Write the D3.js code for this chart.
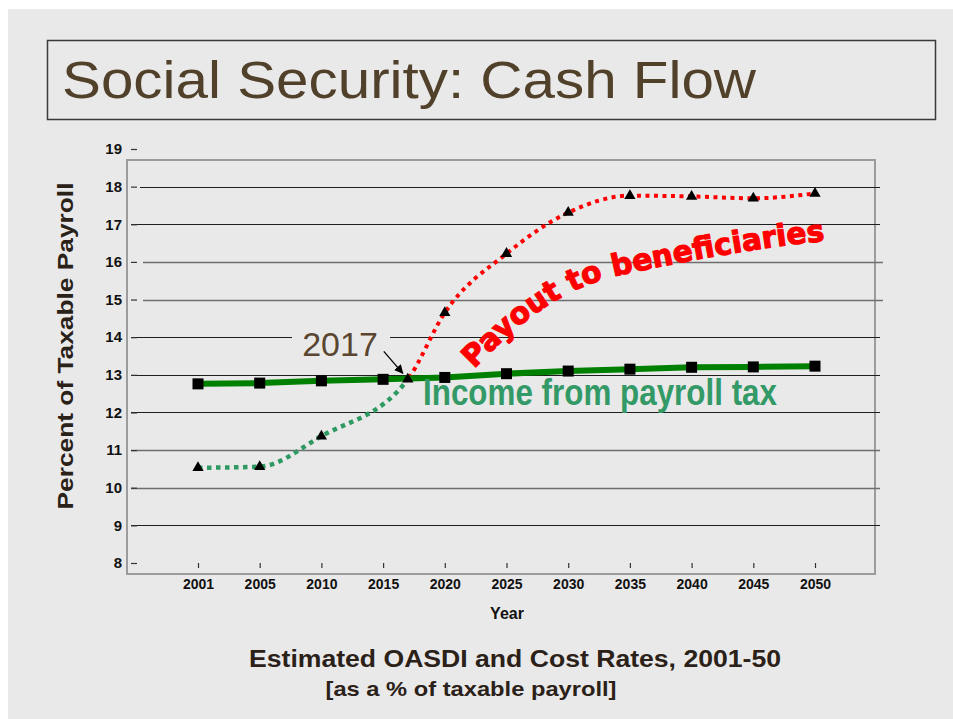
<!DOCTYPE html>
<html>
<head>
<meta charset="utf-8">
<script src="https://cdn.jsdelivr.net/npm/d3@7/dist/d3.min.js"></script>
<style>
  html, body { margin: 0; padding: 0; background: #ffffff; }
  svg { display: block; }
</style>
</head>
<body>
<script>
// Category years on the x axis
const years = [2001, 2005, 2010, 2015, 2020, 2025, 2030, 2035, 2040, 2045, 2050];
// Income rate (payroll tax), % of taxable payroll
const incomeRate = [12.76, 12.78, 12.84, 12.88, 12.93, 13.03, 13.10, 13.15, 13.20, 13.21, 13.23];
// Cost rate (payout to beneficiaries); 2017 is the crossing year
const costYears = [2001, 2005, 2010, 2017, 2020, 2025, 2030, 2035, 2040, 2045, 2050];
const costRate = [10.53, 10.56, 11.37, 12.88, 14.65, 16.22, 17.31, 17.76, 17.74, 17.69, 17.82];
const crossYear = 2017;
const yTicks = [8, 9, 10, 11, 12, 13, 14, 15, 16, 17, 18, 19];
const gridValues = [9, 10, 11, 12, 13, 14, 15, 16, 17, 18];

const W = 953, H = 719;
const svg = d3.select("body").append("svg").attr("width", W).attr("height", H);

// page background
svg.append("rect").attr("x", 8).attr("y", 9).attr("width", W - 8).attr("height", H - 9).attr("fill", "#e9e9e9");

// title box
svg.append("rect").attr("x", 47.5).attr("y", 40.5).attr("width", 888).attr("height", 79)
  .attr("fill", "none").attr("stroke", "#3a3a3a").attr("stroke-width", 1.5);
svg.append("text").attr("x", 62).attr("y", 98)
  .attr("font-family", "'Liberation Sans Narrow', 'Liberation Sans', Arial, sans-serif")
  .attr("font-size", 51).attr("fill", "#51412b")
  .attr("textLength", 694).attr("lengthAdjust", "spacingAndGlyphs")
  .text("Social Security: Cash Flow");

// scales
const xCat = d3.scalePoint().domain(years).range([198, 815]);
const xYear = d3.scaleLinear().domain(years).range(years.map(d => xCat(d)));
const y = d3.scaleLinear().domain([8, 19]).range([563, 149]);

// plot frame
const frame = { x0: 127, x1: 875, y0: 160, y1: 574 };
svg.append("rect").attr("x", frame.x0).attr("y", frame.y0)
  .attr("width", frame.x1 - frame.x0).attr("height", frame.y1 - frame.y0)
  .attr("fill", "none").attr("stroke", "#9c9c9c").attr("stroke-width", 2);

// horizontal gridlines
const greyGrid = new Set([10, 11, 15, 16]);
svg.append("g").selectAll("line").data(gridValues).join("line")
  .attr("x1", d => d === 18 ? 140 : (greyGrid.has(d) && d > 14 ? 143 : 131))
  .attr("x2", d => greyGrid.has(d) && d > 14 ? 883 : 880)
  .attr("y1", d => Math.round(y(d)) + 0.5).attr("y2", d => Math.round(y(d)) + 0.5)
  .attr("stroke", d => greyGrid.has(d) ? "#6e6e6e" : "#1e1e1e")
  .attr("stroke-width", d => greyGrid.has(d) ? 1.6 : 1.2);

// y axis
const yAxis = svg.append("g").attr("transform", "translate(137,0)")
  .call(d3.axisLeft(y).tickValues(yTicks).tickSize(6).tickPadding(9).tickFormat(d3.format("d")));
yAxis.select(".domain").remove();
yAxis.selectAll(".tick line").attr("stroke", "#333").attr("stroke-width", 1.2);
yAxis.selectAll(".tick text").attr("font-family", "'Liberation Sans', Arial, sans-serif")
  .attr("font-weight", "bold").attr("font-size", 15).attr("fill", "#111");

// x axis
const xAxis = svg.append("g").attr("transform", "translate(0,568)")
  .call(d3.axisBottom(xCat).tickSize(-5).tickPadding(11));
xAxis.select(".domain").remove();
xAxis.selectAll(".tick line").attr("stroke", "#333").attr("stroke-width", 1.2);
xAxis.selectAll(".tick text").attr("font-family", "'Liberation Sans', Arial, sans-serif")
  .attr("font-weight", "bold").attr("font-size", 14).attr("fill", "#111");

// axis titles
svg.append("text").attr("x", 507).attr("y", 619).attr("text-anchor", "middle")
  .attr("font-family", "'Liberation Sans', Arial, sans-serif").attr("font-weight", "bold")
  .attr("font-size", 16).attr("fill", "#111").text("Year");
svg.append("text").attr("transform", "translate(73,346) rotate(-90)").attr("text-anchor", "middle")
  .attr("font-family", "'Liberation Sans', Arial, sans-serif").attr("font-weight", "bold")
  .attr("font-size", 22).attr("fill", "#2a2118")
  .attr("textLength", 327).attr("lengthAdjust", "spacingAndGlyphs")
  .text("Percent of Taxable Payroll");

// "2017" callout, with a background patch breaking the gridline
svg.append("rect").attr("x", 292).attr("y", 326).attr("width", 98).attr("height", 18).attr("fill", "#e9e9e9");
svg.append("text").attr("x", 340).attr("y", 356).attr("text-anchor", "middle")
  .attr("font-family", "'Liberation Sans', Arial, sans-serif").attr("font-size", 34)
  .attr("fill", "#5a4630").text(String(crossYear));
const defs = svg.append("defs");
defs.append("marker").attr("id", "arrowHead").attr("viewBox", "0 0 10 10")
  .attr("refX", 9).attr("refY", 5).attr("markerWidth", 7).attr("markerHeight", 7)
  .attr("orient", "auto").append("path").attr("d", "M0,0 L10,5 L0,10 Z").attr("fill", "#000");
const cx = xYear(crossYear), cy = y(costRate[costYears.indexOf(crossYear)]);
svg.append("line").attr("x1", cx - 24).attr("y1", cy - 28).attr("x2", cx - 5).attr("y2", cy - 6)
  .attr("stroke", "#000").attr("stroke-width", 1.3).attr("marker-end", "url(#arrowHead)");

// cost rate: smooth dotted curve, green before the crossing year and red after
const costPts = costYears.map((yr, i) => [xYear(yr), y(costRate[i])]);
const costLine = d3.line().curve(d3.curveMonotoneX)(costPts);
defs.append("clipPath").attr("id", "clipBefore").append("rect")
  .attr("x", 0).attr("y", 0).attr("width", cx).attr("height", H);
defs.append("clipPath").attr("id", "clipAfter").append("rect")
  .attr("x", cx).attr("y", 0).attr("width", W - cx).attr("height", H);
svg.append("path").attr("d", costLine).attr("clip-path", "url(#clipBefore)")
  .attr("fill", "none").attr("stroke", "#2e9a62").attr("stroke-width", 4.5).attr("stroke-dasharray", "4.5 4.5");
svg.append("path").attr("d", costLine).attr("clip-path", "url(#clipAfter)")
  .attr("fill", "none").attr("stroke", "#ff0000").attr("stroke-width", 4).attr("stroke-dasharray", "4 4.5");

// income rate: thick green line with square markers
svg.append("path")
  .attr("d", d3.line()(years.map((yr, i) => [xCat(yr), y(incomeRate[i])])))
  .attr("fill", "none").attr("stroke", "#008000").attr("stroke-width", 6);
svg.append("g").selectAll("rect").data(years).join("rect")
  .attr("x", d => xCat(d) - 5.5).attr("y", (d, i) => y(incomeRate[i]) - 5.5)
  .attr("width", 11).attr("height", 11).attr("fill", "#000");

// cost rate triangle markers
svg.append("g").selectAll("path").data(costYears).join("path")
  .attr("transform", (d, i) => `translate(${xYear(d)},${y(costRate[i])})`)
  .attr("d", d3.symbol(d3.symbolTriangle, 55)).attr("fill", "#000");

// series labels
svg.append("text").attr("x", 423).attr("y", 405)
  .attr("font-family", "'Liberation Sans Narrow', 'Liberation Sans', Arial, sans-serif")
  .attr("font-weight", "bold").attr("font-size", 37).attr("fill", "#339966")
  .attr("textLength", 354).attr("lengthAdjust", "spacingAndGlyphs")
  .text("Income from payroll tax");

defs.append("path").attr("id", "payoutArc")
  .attr("d", "M 474,369 C 530,311 570,286 625,274 S 760,247 824,241 L 870,237");
svg.append("text")
  .attr("font-family", "'DejaVu Sans', 'Liberation Sans', Arial, sans-serif")
  .attr("font-weight", "bold").attr("font-size", 30).attr("fill", "#ff0000")
  .attr("stroke", "#ff0000").attr("stroke-width", 1.2).attr("stroke-linejoin", "round")
  .append("textPath").attr("href", "#payoutArc")
  .attr("textLength", 384).attr("lengthAdjust", "spacingAndGlyphs")
  .text("Payout to beneficiaries");

// bottom caption
svg.append("text").attr("x", 515).attr("y", 667).attr("text-anchor", "middle")
  .attr("font-family", "'Liberation Sans', Arial, sans-serif").attr("font-weight", "bold")
  .attr("font-size", 23).attr("fill", "#2b2118")
  .attr("textLength", 532).attr("lengthAdjust", "spacingAndGlyphs")
  .text("Estimated OASDI and Cost Rates, 2001-50");
svg.append("text").attr("x", 471).attr("y", 696).attr("text-anchor", "middle")
  .attr("font-family", "'Liberation Sans', Arial, sans-serif").attr("font-weight", "bold")
  .attr("font-size", 21).attr("fill", "#2b2118")
  .attr("textLength", 291).attr("lengthAdjust", "spacingAndGlyphs")
  .text("[as a % of taxable payroll]");
</script>
</body>
</html>
